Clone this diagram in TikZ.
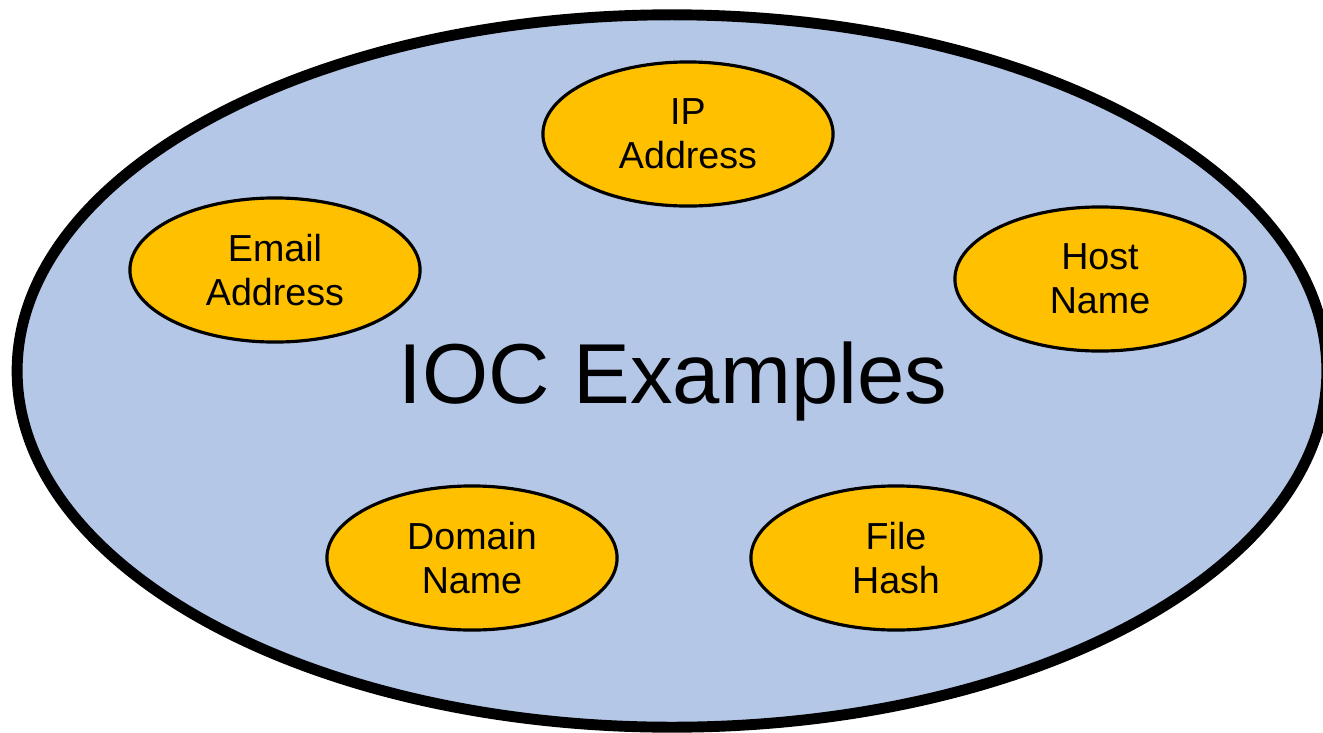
\documentclass[tikz,border=0pt]{standalone}
\usepackage{fontspec}
\setmainfont{Liberation Sans}
\usetikzlibrary{shapes.geometric}
\definecolor{bigfill}{HTML}{B4C7E7}
\definecolor{smallfill}{HTML}{FFC000}
\tikzset{
  item/.style={ellipse, draw=black, line width=0.9pt, fill=smallfill,
    minimum width=2.9cm, minimum height=1.44cm, inner sep=0pt,
    align=center, font=\fontsize{10.7pt}{12.4pt}\selectfont},
}
\begin{document}
\begin{tikzpicture}[x=0.01cm,y=-0.01cm]
\useasboundingbox (0,0) rectangle (1323,733);
\begin{scope}
\clip (0,0) rectangle (1323,733);
\node[ellipse, draw=black, line width=3.1pt, fill=bigfill, minimum width=13.09cm, minimum height=7.12cm, inner sep=0pt] (big) at (672,371) {};
\end{scope}
\node[font=\fontsize{24.2pt}{28pt}\selectfont] (title) at (673,381) {IOC Examples};
\node[item] (ip) at (688,134) {IP\\Address};
\node[item] (email) at (275,270) {Email\\Address};
\node[item] (host) at (1100,279) {Host\\Name};
\node[item] (domain) at (472,558) {Domain\\Name};
\node[item] (file) at (896,558) {File\\Hash};
\end{tikzpicture}
\end{document}
